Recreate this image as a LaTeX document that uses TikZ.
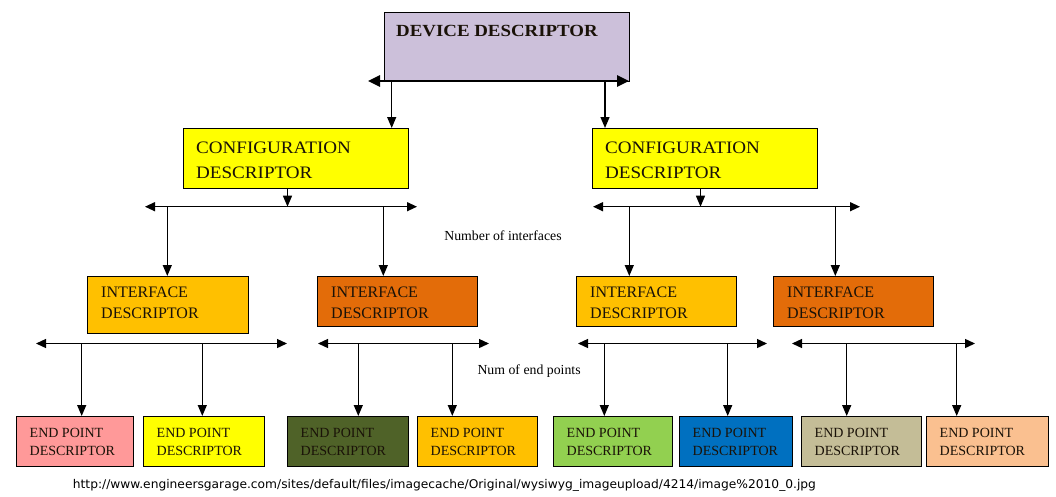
\documentclass[tikz,border=0pt]{standalone}
\usepackage{fontspec}
\usepackage{graphicx}
\setmainfont{Liberation Serif}
\newfontfamily\devfont[FakeStretch=1.11]{Liberation Serif}
\newfontfamily\cfgfont[FakeStretch=1.09]{Liberation Serif}
\newfontfamily\urlfont{DejaVu Sans}
\usetikzlibrary{arrows.meta}
\definecolor{devcol}{HTML}{CCC0DA}
\definecolor{cfgcol}{HTML}{FFFF00}
\definecolor{ifa}{HTML}{FFC000}
\definecolor{ifb}{HTML}{E36C09}
\definecolor{epa}{HTML}{FF9999}
\definecolor{epb}{HTML}{FFFF00}
\definecolor{epc}{HTML}{4F6228}
\definecolor{epd}{HTML}{FFC000}
\definecolor{epe}{HTML}{92D050}
\definecolor{epf}{HTML}{0070C0}
\definecolor{epg}{HTML}{C4BD97}
\definecolor{eph}{HTML}{FAC090}
\definecolor{txtdark}{HTML}{1A1208}
\newcommand\epbox[4]{%
  \node[box, fill=#4, minimum width=#3pt, minimum height=50pt] (#1) at (#2,416) {};
  \node[eplbl] (#1a) at ([xshift=13.5pt,yshift=-21pt]#1.north west) {END POINT};
  \node[eplbl] (#1b) at ([xshift=13.5pt,yshift=-39pt]#1.north west) {DESCRIPTOR};}
\newcommand\ifbox[5]{%
  \node[box, fill=#5, minimum width=#3pt, minimum height=#4pt] (#1) at (#2,276) {};
  \node[iflbl] (#1a) at ([xshift=14pt,yshift=-21.3pt]#1.north west) {INTERFACE};
  \node[iflbl] (#1b) at ([xshift=14pt,yshift=-42.3pt]#1.north west) {DESCRIPTOR};}
\newcommand\cfgbox[2]{%
  \node[box, fill=cfgcol, minimum width=225pt, minimum height=60pt] (#1) at (#2,128) {};
  \node[cfglbl] (#1a) at ([xshift=13pt,yshift=-25pt]#1.north west) {CONFIGURATION};
  \node[cfglbl] (#1b) at ([xshift=13pt,yshift=-50pt]#1.north west) {DESCRIPTOR};}
\begin{document}
\begin{tikzpicture}[x=1pt,y=-1pt,
  box/.style={draw=black, line width=0.9pt, inner sep=0pt, outer sep=0pt, anchor=north west},
  eplbl/.style={anchor=base west, inner sep=0pt, text=txtdark, font=\fontsize{14}{16}\selectfont},
  iflbl/.style={anchor=base west, inner sep=0pt, text=txtdark, font=\fontsize{16}{18}\selectfont},
  cfglbl/.style={anchor=base west, inner sep=0pt, text=txtdark, font=\cfgfont\fontsize{17.5}{19}\selectfont},
  note/.style={inner sep=0pt, text=black, font=\fontsize{13.8}{15}\selectfont},
  bus/.style={line width=1.3pt, {Triangle[length=10pt,width=9pt]}-{Triangle[length=10pt,width=9pt]}},
  busthick/.style={line width=2.6pt, {Triangle[length=12pt,width=11pt]}-{Triangle[length=12pt,width=11pt]}},
  arr/.style={line width=1.3pt, -{Triangle[length=11pt,width=9pt]}}]
\fill[white] (0,0) rectangle (1056,496);
\useasboundingbox (0,0) rectangle (1056,496);

% device descriptor
\node[box, fill=devcol, minimum width=245pt, minimum height=69pt] (dev) at (384,12) {};
\node[anchor=base west, inner sep=0pt, text=txtdark, font=\devfont\bfseries\fontsize{17}{19}\selectfont] (devt) at ([xshift=12pt,yshift=-24pt]dev.north west) {DEVICE DESCRIPTOR};
\coordinate (d0l) at ([xshift=-16pt]dev.south west);
\draw[busthick] (d0l) -- (dev.south east);

% configuration descriptors
\cfgbox{ca}{183}
\cfgbox{cb}{592}
\coordinate (dva) at (391.7,81);
\coordinate (dvb) at (605,81);
\draw[arr] (dva) -- (dva |- ca.north);
\draw[arr] (dvb) -- (dvb |- cb.north);

% buses under configurations
\coordinate (b1l) at (145,206.7);
\coordinate (b1r) at (417,206.7);
\coordinate (b2l) at (593,206.7);
\coordinate (b2r) at (860,206.7);
\draw[bus] (b1l) -- (b1r);
\draw[bus] (b2l) -- (b2r);
\draw[arr] ([xshift=-8pt]ca.south) -- ([xshift=-8pt]ca.south |- b1l);
\draw[arr] ([xshift=-4pt]cb.south) -- ([xshift=-4pt]cb.south |- b2l);

\node[note] (nif) at (503,236) {Number of interfaces};

% interface descriptors
\ifbox{ia}{87}{161}{57}{ifa}
\ifbox{ib}{317}{160}{50}{ifb}
\ifbox{ic}{576}{160}{50}{ifa}
\ifbox{id}{773}{160}{50}{ifb}
\coordinate (ta) at (167.3,206.7);
\coordinate (tb) at (383.3,206.7);
\coordinate (tc) at (629.3,206.7);
\coordinate (td) at (835.3,206.7);
\draw[arr] (ta) -- (ta |- ia.north);
\draw[arr] (tb) -- (tb |- ib.north);
\draw[arr] (tc) -- (tc |- ic.north);
\draw[arr] (td) -- (td |- id.north);

% buses under interfaces
\coordinate (b3l) at (36,343.5);
\coordinate (b3r) at (287,343.5);
\coordinate (b4l) at (318,343.5);
\coordinate (b4r) at (489,343.5);
\coordinate (b5l) at (578,343.5);
\coordinate (b5r) at (767,343.5);
\coordinate (b6l) at (792,343.5);
\coordinate (b6r) at (975,343.5);
\draw[bus] (b3l) -- (b3r);
\draw[bus] (b4l) -- (b4r);
\draw[bus] (b5l) -- (b5r);
\draw[bus] (b6l) -- (b6r);

\node[note, anchor=west] (nep) at (477.3,371) {Num of end points};

% end point descriptors
\epbox{ea}{16}{117}{epa}
\epbox{eb}{143}{121}{epb}
\epbox{ec}{287}{121}{epc}
\epbox{ed}{417}{120}{epd}
\epbox{ee}{553}{119}{epe}
\epbox{ef}{679}{113}{epf}
\epbox{eg}{801}{120}{epg}
\epbox{eh}{926}{122}{eph}

\coordinate (sa) at (81.7,343.5);
\coordinate (sb) at (202.3,343.5);
\coordinate (sc) at (358.3,343.5);
\coordinate (sd) at (452.3,343.5);
\coordinate (se) at (604.3,343.5);
\coordinate (sf) at (727.7,343.5);
\coordinate (sg) at (846.7,343.5);
\coordinate (sh) at (956.7,343.5);
\draw[arr] (sa) -- (sa |- ea.north);
\draw[arr] (sb) -- (sb |- eb.north);
\draw[arr] (sc) -- (sc |- ec.north);
\draw[arr] (sd) -- (sd |- ed.north);
\draw[arr] (se) -- (se |- ee.north);
\draw[arr] (sf) -- (sf |- ef.north);
\draw[arr] (sg) -- (sg |- eg.north);
\draw[arr] (sh) -- (sh |- eh.north);

% source line
\node[anchor=base west, inner sep=0pt, text=black, font=\urlfont\fontsize{12}{14}\selectfont] (url) at (72.7,488.7) {\resizebox{743pt}{\height}{http://www.engineersgarage.com/sites/default/files/imagecache/Original/wysiwyg\_imageupload/4214/image\%2010\_0.jpg}};
\end{tikzpicture}
\end{document}
